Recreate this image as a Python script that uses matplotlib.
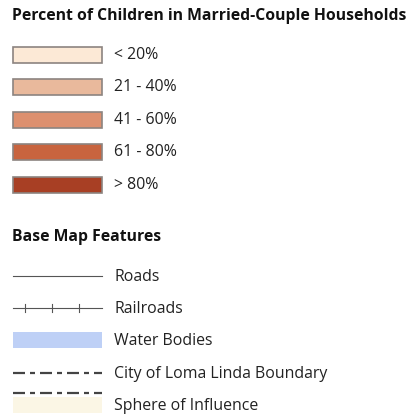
import matplotlib
matplotlib.use("Agg")
import matplotlib.pyplot as plt
from matplotlib.patches import Rectangle

title1 = "Percent of Children in Married-Couple Households"
class_labels = ["< 20%", "21 - 40%", "41 - 60%", "61 - 80%", "> 80%"]
class_colors = ["#FCE9D6", "#E9B99C", "#DD906F", "#C8643F", "#A83F24"]
title2 = "Base Map Features"
base_labels = ["Roads", "Railroads", "Water Bodies", "City of Loma Linda Boundary", "Sphere of Influence"]
water_color = "#BED0F6"
sphere_color = "#FBF6E5"

W, H = 413, 418
fig = plt.figure(figsize=(W / 100, H / 100), dpi=100)
ax = fig.add_axes([0, 0, 1, 1])
ax.set_xlim(0, W)
ax.set_ylim(H, 0)
ax.axis("off")

font = "Open Sans"
tfs = 11.3
lfs = 11.4
tcol = "#222222"

ax.text(12, 16, title1, fontsize=tfs, fontweight="bold", family=font,
        va="center", ha="left", color="#111111")

x0, x1 = 13, 102
tx = 114
box_tops = [47, 79, 112, 144, 177]
for top, lab, col in zip(box_tops, class_labels, class_colors):
    ax.add_patch(Rectangle((x0, top), x1 - x0, 16, facecolor=col,
                           edgecolor="#8C8480", linewidth=1.2))
    ax.text(tx, top + 8, lab, fontsize=lfs, family=font, va="center",
            ha="left", color=tcol)

ax.text(12, 237, title2, fontsize=tfs, fontweight="bold", family=font,
        va="center", ha="left", color="#111111")

# Roads
ax.plot([x0, x1], [276, 276], color="#555555", linewidth=0.8)
ax.text(tx, 277, base_labels[0], fontsize=lfs, family=font, va="center", ha="left", color=tcol)
# Railroads
ax.plot([x0, x1], [308, 308], color="#555555", linewidth=0.8)
for xt in [25, 52, 79]:
    ax.plot([xt, xt], [304, 312], color="#555555", linewidth=0.8)
ax.text(tx, 309, base_labels[1], fontsize=lfs, family=font, va="center", ha="left", color=tcol)
# Water
ax.add_patch(Rectangle((x0, 332), x1 - x0, 16, facecolor=water_color, edgecolor="none"))
ax.text(tx, 341, base_labels[2], fontsize=lfs, family=font, va="center", ha="left", color=tcol)
# City boundary
lw = 1.6
dash = (12 * 0.72 / lw, 5 * 0.72 / lw, 5 * 0.72 / lw, 5 * 0.72 / lw)
ax.plot([x0, x1], [373, 373], color="#444444", linewidth=lw, dashes=dash, dash_capstyle="butt")
ax.text(tx, 374, base_labels[3], fontsize=lfs, family=font, va="center", ha="left", color=tcol)
# Sphere of influence
ax.add_patch(Rectangle((x0, 397), x1 - x0, 16, facecolor=sphere_color, edgecolor="none"))
ax.plot([x0, x1], [393, 393], color="#444444", linewidth=lw, dashes=dash, dash_capstyle="butt")
ax.text(tx, 406, base_labels[4], fontsize=lfs, family=font, va="center", ha="left", color=tcol)

fig.savefig("out.png", dpi=100)
